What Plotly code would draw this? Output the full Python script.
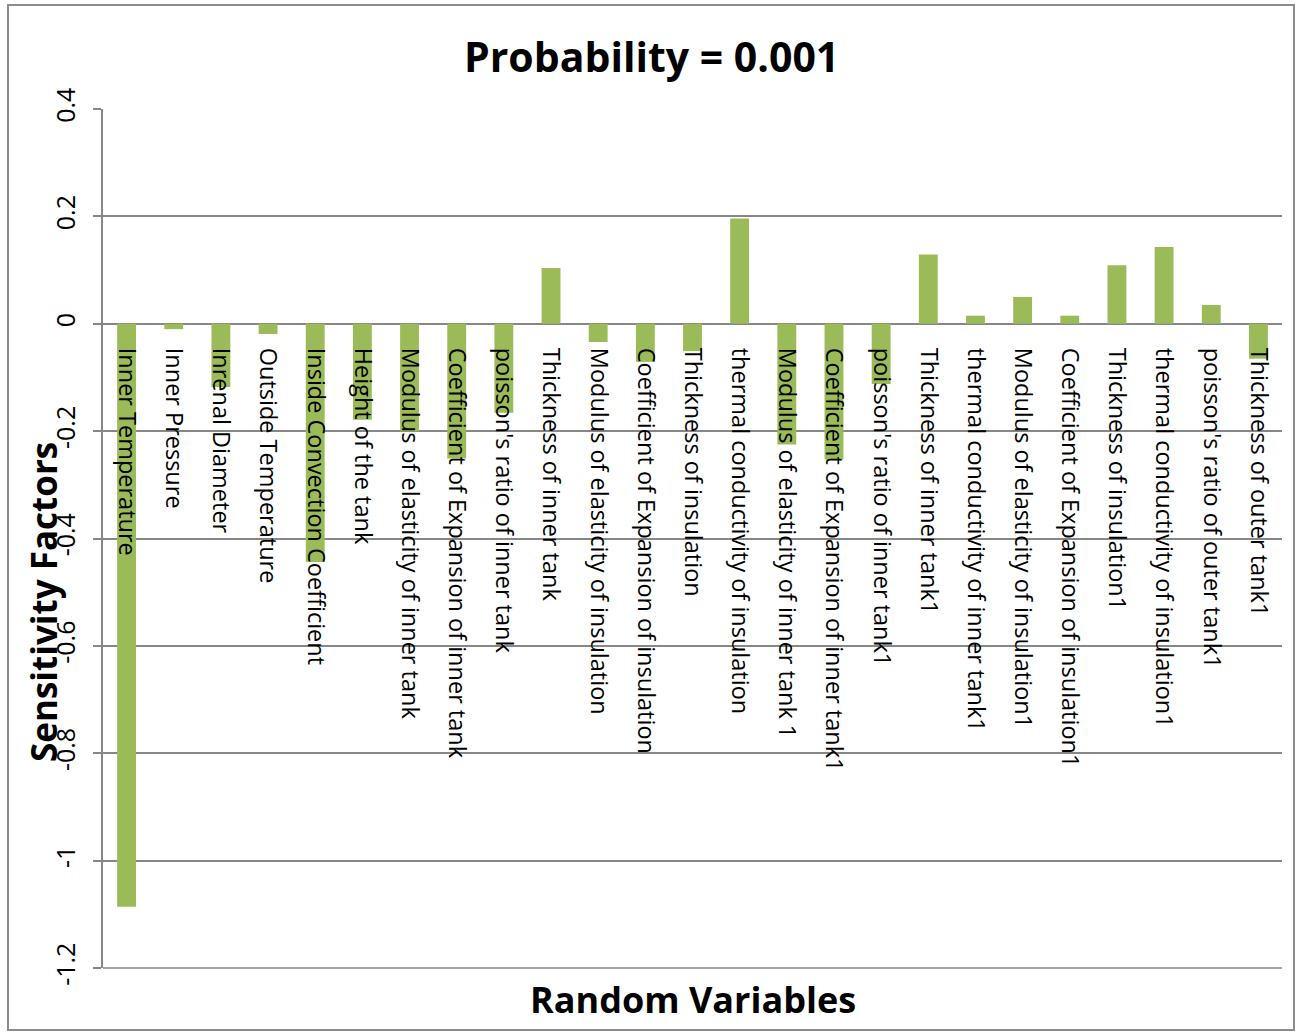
import plotly.graph_objects as go

# Random variables and their sensitivity factors at probability 0.001
variables = [
    "Inner Temperature",
    "Inner Pressure",
    "Inrenal Diameter",
    "Outside Temperature",
    "Inside Convection Coefficient",
    "Height of the tank",
    "Modulus of elasticity of inner tank",
    "Coefficient of Expansion of inner tank",
    "poisson's ratio of inner tank",
    "Thickness of inner tank",
    "Modulus of elasticity of insulation",
    "Coefficient of Expansion of insulation",
    "Thickness of insulation",
    "thermal conductivity of insulation",
    "Modulus of elasticity of inner tank 1",
    "Coefficient of Expansion of inner tank1",
    "poisson's ratio of inner tank1",
    "Thickness of inner tank1",
    "thermal conductivity of inner tank1",
    "Modulus of elasticity of insulation1",
    "Coefficient of Expansion of insulation1",
    "Thickness of insulation1",
    "thermal conductivity of insulation1",
    "poisson's ratio of outer tank1",
    "Thickness of outer tank1",
]
sensitivity = [
    -1.086, -0.010, -0.118, -0.019, -0.444, -0.179, -0.200, -0.251, -0.166,
    0.104, -0.034, -0.071, -0.051, 0.196, -0.225, -0.253, -0.112, 0.129,
    0.015, 0.050, 0.015, 0.109, 0.143, 0.035, -0.065,
]
y_ticks = [0.4, 0.2, 0, -0.2, -0.4, -0.6, -0.8, -1, -1.2]
y_tick_text = ["0.4", "0.2", "0", "-0.2", "-0.4", "-0.6", "-0.8", "-1", "-1.2"]

GRID = "#878787"
FONT = "Open Sans"

fig = go.Figure(
    go.Bar(
        x=variables,
        y=sensitivity,
        marker=dict(color="#9BBB59", line=dict(width=0)),
    )
)

# plot area in pixels: left 103, right 1282, top 109, bottom 968
L, R, T, B = 103, 1282, 109, 968
W, H = 1299, 1032
pw, ph = R - L, B - T

fig.update_layout(
    width=W,
    height=H,
    margin=dict(l=L, r=W - R, t=T, b=H - B, pad=0),
    paper_bgcolor="white",
    plot_bgcolor="white",
    bargap=0.6,
    showlegend=False,
    font=dict(family=FONT, color="black"),
    xaxis=dict(
        anchor="free",
        position=0.75,
        tickangle=90,
        tickfont=dict(family=FONT, size=23.5, color="black"),
        ticks="",
        showline=False,
        showgrid=False,
        ticklabelstandoff=23,
        automargin=False,
        range=[-0.5, len(variables) - 0.5],
    ),
    yaxis=dict(
        range=[-1.2, 0.4],
        tickvals=y_ticks,
        ticktext=y_tick_text,
        tickangle=-90,
        tickfont=dict(family=FONT, size=25, color="black"),
        ticks="outside",
        ticklen=8,
        tickcolor=GRID,
        tickwidth=1.5,
        showline=True,
        linecolor=GRID,
        linewidth=1.5,
        showgrid=True,
        gridcolor=GRID,
        gridwidth=1.5,
        zeroline=False,
        ticklabelstandoff=8,
        automargin=False,
    ),
    annotations=[
        dict(
            text="<b>Probability = 0.001</b>",
            xref="paper", yref="paper",
            x=(651 - L) / pw, y=(B - 56) / ph,
            xanchor="center", yanchor="middle",
            showarrow=False,
            font=dict(family=FONT, size=41, color="black"),
        ),
        dict(
            text="<b>Random Variables</b>",
            xref="paper", yref="paper",
            x=0.5, y=(B - 1000) / ph,
            xanchor="center", yanchor="middle",
            showarrow=False,
            font=dict(family=FONT, size=36, color="black"),
        ),
        dict(
            text="<b>Sensitivity Factors</b>",
            xref="paper", yref="paper",
            x=(43 - L) / pw, y=(B - 602) / ph,
            xanchor="center", yanchor="middle",
            textangle=-90,
            showarrow=False,
            font=dict(family=FONT, size=35, color="black"),
        ),
    ],
    shapes=[
        # bottom frame line of the plot area
        dict(type="line", xref="paper", yref="paper",
             x0=0, x1=1, y0=0, y1=0, line=dict(color=GRID, width=1.5)),
        # chart border
        dict(type="rect", xref="paper", yref="paper",
             x0=(8 - L) / pw, x1=(1294 - L) / pw,
             y0=(B - 1030) / ph, y1=(B - 5) / ph,
             line=dict(color="#8c8c8c", width=2)),
    ],
)

fig.write_html("out.html")
